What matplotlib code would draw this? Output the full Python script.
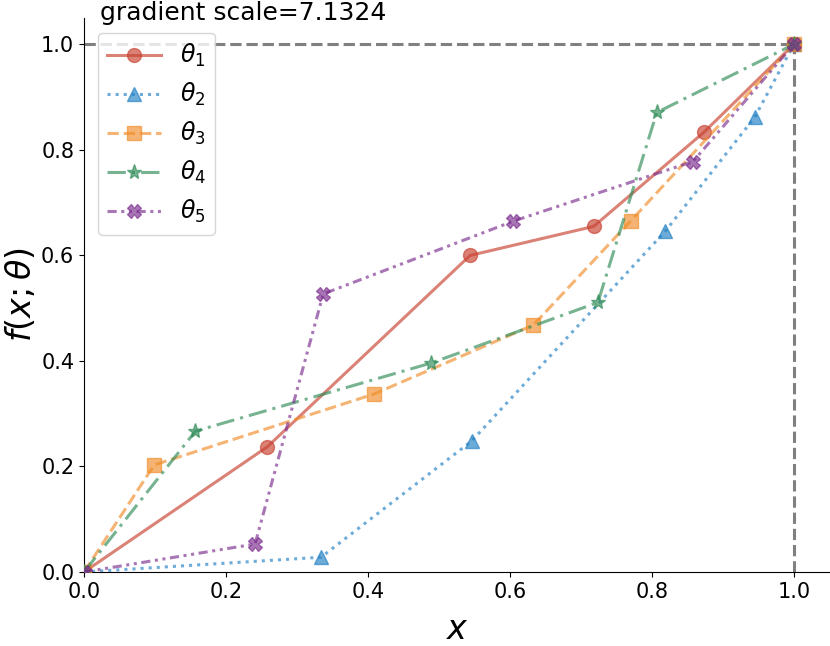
import matplotlib
matplotlib.use("Agg")
import matplotlib.pyplot as plt

labels = [r"$\theta_1$", r"$\theta_2$", r"$\theta_3$", r"$\theta_4$", r"$\theta_5$"]
x1 = [0.0, 0.258, 0.544, 0.718, 0.873, 1.0]
y1 = [0.0, 0.237, 0.600, 0.655, 0.833, 1.0]
x2 = [0.0, 0.334, 0.546, 0.819, 0.945, 1.0]
y2 = [0.0, 0.028, 0.248, 0.646, 0.862, 1.0]
x3 = [0.0, 0.099, 0.408, 0.633, 0.770, 1.0]
y3 = [0.0, 0.203, 0.337, 0.468, 0.665, 1.0]
x4 = [0.0, 0.157, 0.489, 0.724, 0.807, 1.0]
y4 = [0.0, 0.267, 0.396, 0.511, 0.871, 1.0]
x5 = [0.0, 0.241, 0.337, 0.605, 0.858, 1.0]
y5 = [0.0, 0.053, 0.527, 0.665, 0.778, 1.0]
title = "gradient scale=7.1324"

colors = ["#c8402f", "#1f7fc4", "#f08c28", "#2e8b57", "#7b2d8e"]
markers = ["o", "^", "s", "*", "X"]
styles = ["-", ":", "--", (0, (6, 2, 1, 2)), (0, (3, 1.5, 1, 1.5, 1, 1.5))]
msizes = [10, 10, 10, 11, 10]

fig = plt.figure(figsize=(8.3, 6.46), dpi=100)
ax = fig.add_axes([84/830, (646-572)/646, (830-84)/830, (572-18)/646])

ax.plot([0, 1], [1, 1], color="gray", ls="--", lw=2.2, zorder=1)
ax.plot([1, 1], [0, 1], color="gray", ls="--", lw=2.2, zorder=1)

xs = [x1, x2, x3, x4, x5]
ys = [y1, y2, y3, y4, y5]
for xv, yv, c, m, s, ms, lab in zip(xs, ys, colors, markers, styles, msizes, labels):
    ax.plot(xv, yv, color=c, marker=m, ls=s, lw=2.2, ms=ms, alpha=0.65,
            label=lab, zorder=3)

ax.set_xlim(0, 1.051)
ax.set_ylim(0, 1.05)
ax.set_xticks([0, 0.2, 0.4, 0.6, 0.8, 1.0])
ax.set_yticks([0, 0.2, 0.4, 0.6, 0.8, 1.0])
ax.tick_params(labelsize=15)
ax.spines["top"].set_visible(False)
ax.spines["right"].set_visible(False)
ax.set_xlabel(r"$x$", fontsize=24, labelpad=8)
ax.set_ylabel(r"$f(x;\theta)$", fontsize=24, labelpad=2)
ax.legend(loc="upper left", fontsize=17, handlelength=2.25,
          bbox_to_anchor=(0.003, 0.995))
fig.text(100/830, 1-20/646, title, fontsize=18, ha="left", va="baseline")

fig.savefig("out.png", dpi=100)
